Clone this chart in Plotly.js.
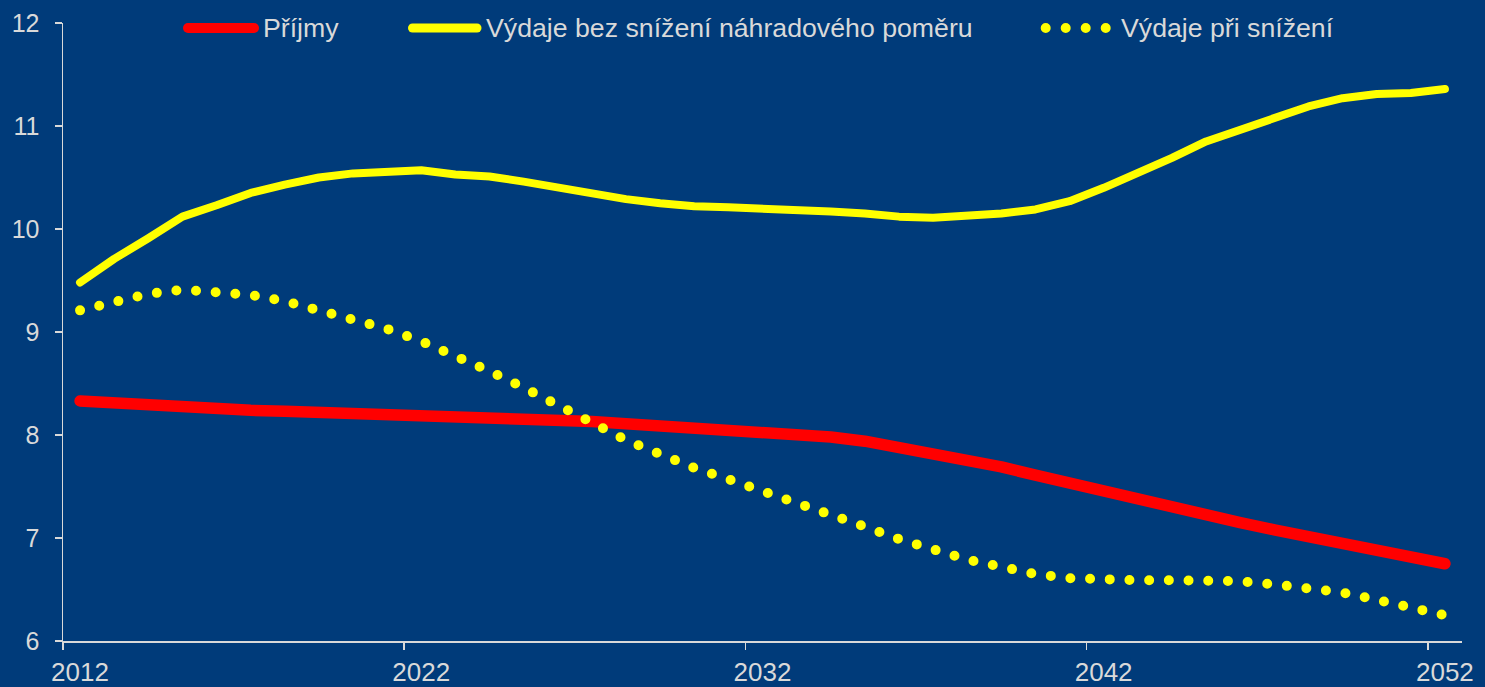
<!DOCTYPE html>
<html>
<head>
<meta charset="utf-8">
<script src="https://cdn.plot.ly/plotly-3.0.1.min.js"></script>
<style>
  html, body { margin: 0; padding: 0; background: #003b7a; }
  #chart { width: 1485px; height: 687px; }
  .scatterlayer path.js-line { stroke-linecap: round !important; stroke-linejoin: round !important; }
  .shapelayer path { stroke-linecap: round !important; }
</style>
</head>
<body>
<div id="chart"></div>
<script>
// ---- data ----
const years = [2012,2013,2014,2015,2016,2017,2018,2019,2020,2021,2022,2023,2024,2025,2026,2027,2028,2029,2030,2031,2032,2033,2034,2035,2036,2037,2038,2039,2040,2041,2042,2043,2044,2045,2046,2047,2048,2049,2050,2051,2052];
const prijmy = [8.33,8.31,8.29,8.26,8.25,8.24,8.23,8.22,8.22,8.21,8.20,8.19,8.18,8.17,8.15,8.13,8.11,8.09,8.07,8.06,8.04,8.01,7.98,7.94,7.88,7.82,7.76,7.69,7.61,7.53,7.46,7.38,7.30,7.22,7.15,7.08,7.01,6.95,6.88,6.82,6.75];
const vydajeBez = [9.48,9.71,9.91,10.12,10.23,10.35,10.43,10.50,10.54,10.55,10.57,10.53,10.51,10.46,10.40,10.35,10.29,10.25,10.22,10.21,10.20,10.19,10.17,10.15,10.12,10.11,10.13,10.15,10.19,10.27,10.40,10.54,10.69,10.85,10.97,11.08,11.19,11.27,11.31,11.32,11.36];
const vydajePri = [9.21,9.28,9.37,9.41,9.39,9.36,9.30,9.21,9.14,9.03,8.91,8.77,8.62,8.46,8.28,8.12,7.95,7.81,7.68,7.57,7.46,7.35,7.23,7.11,6.99,6.88,6.79,6.72,6.65,6.61,6.59,6.59,6.59,6.59,6.58,6.55,6.52,6.47,6.40,6.32,6.25];
const seriesNames = ["Příjmy", "Výdaje bez snížení náhradového poměru", "Výdaje při snížení"];
const xTickVals = [2011.5, 2021.5, 2031.5, 2041.5, 2051.5];
const xTickText = ["2012", "2022", "2032", "2042", "2052"];
const yTickVals = [6, 7, 8, 9, 10, 11, 12];

// ---- layout helpers ----
const W = 1485, H = 687;
const M = {l: 63, r: 23, t: 23, b: 46};
const pw = W - M.l - M.r, ph = H - M.t - M.b;
const px = x => (x - M.l) / pw;
const py = y => (H - M.b - y) / ph;
const txt = '#d9d9d9';
const fontFam = 'Liberation Sans, Arial, sans-serif';

const traces = [
  {x: years, y: prijmy, name: seriesNames[0], mode: 'lines', line: {color: '#ff0000', width: 11.5}},
  {x: years, y: vydajeBez, name: seriesNames[1], mode: 'lines', line: {color: '#ffff00', width: 8}},
  {x: years, y: vydajePri, name: seriesNames[2], mode: 'lines', line: {color: '#ffff00', width: 10, dash: '0px,19.7px'}}
];

const legY = py(28);
const shapes = [
  {type: 'line', xref: 'paper', yref: 'paper', x0: px(188), x1: px(254), y0: legY, y1: legY, line: {color: '#ff0000', width: 10}},
  {type: 'line', xref: 'paper', yref: 'paper', x0: px(412.5), x1: px(477), y0: legY, y1: legY, line: {color: '#ffff00', width: 9}},
  {type: 'line', xref: 'paper', yref: 'paper', x0: px(1045.7), x1: px(1106.2), y0: legY, y1: legY, line: {color: '#ffff00', width: 10, dash: '0px,20px'}}
];
const annFont = {family: fontFam, size: 26.7, color: txt};
const annotations = [
  {xref: 'paper', yref: 'paper', x: px(261), y: legY, xanchor: 'left', yanchor: 'middle', text: seriesNames[0], showarrow: false, font: annFont},
  {xref: 'paper', yref: 'paper', x: px(484), y: legY, xanchor: 'left', yanchor: 'middle', text: seriesNames[1], showarrow: false, font: annFont},
  {xref: 'paper', yref: 'paper', x: px(1119), y: legY, xanchor: 'left', yanchor: 'middle', text: seriesNames[2], showarrow: false, font: annFont}
];

const layout = {
  width: W, height: H,
  margin: M,
  paper_bgcolor: '#003b7a',
  plot_bgcolor: '#003b7a',
  showlegend: false,
  font: {family: fontFam, color: txt, size: 26},
  xaxis: {
    range: [2011.5, 2052.5],
    tickmode: 'array', tickvals: xTickVals, ticktext: xTickText,
    ticks: 'outside', ticklen: 7, tickcolor: txt, tickwidth: 1.5,
    showline: true, linecolor: txt, linewidth: 1.5,
    showgrid: false, zeroline: false,
    ticklabelshift: 17, ticklabelstandoff: 0,
    tickfont: {family: fontFam, size: 26, color: txt}
  },
  yaxis: {
    range: [6, 12],
    tickmode: 'array', tickvals: yTickVals,
    ticks: 'outside', ticklen: 7, tickcolor: txt, tickwidth: 1.5,
    showline: true, linecolor: txt, linewidth: 1.5,
    showgrid: false, zeroline: false,
    ticklabelstandoff: 10,
    tickfont: {family: fontFam, size: 25, color: txt}
  },
  shapes: shapes,
  annotations: annotations
};

Plotly.newPlot('chart', traces, layout, {displayModeBar: false, staticPlot: true});
</script>
</body>
</html>
